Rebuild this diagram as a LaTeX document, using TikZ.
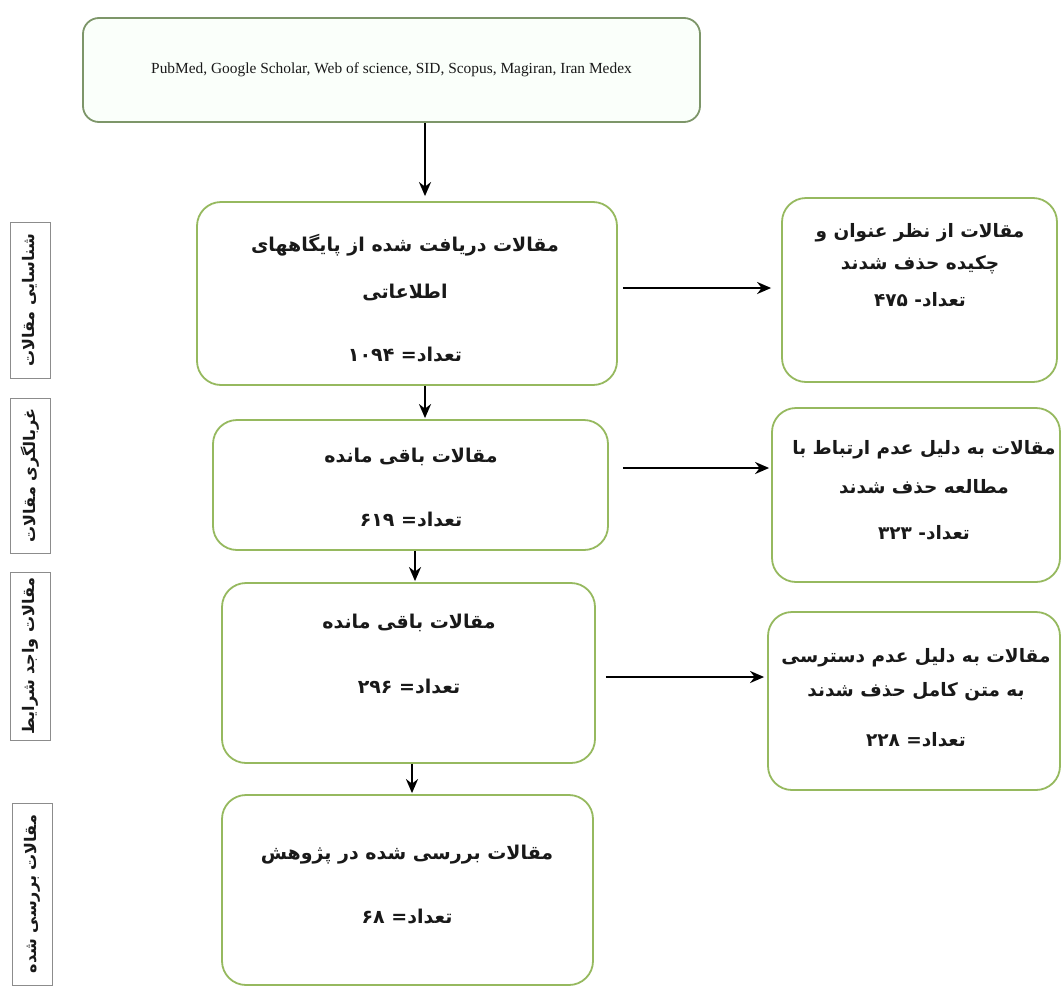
\documentclass[tikz,border=0pt]{standalone}
\usepackage{fontspec}
\setmainfont{Liberation Serif}
\newfontfamily\farsifont[Script=Arabic]{DejaVu Sans}
\TeXXeTstate=1
\usetikzlibrary{arrows.meta}
\newcommand{\fa}[1]{{\farsifont\bfseries\beginR #1\endR}}
\newcommand{\faL}[1]{\beginL #1\endL{}}
\definecolor{boxgreen}{RGB}{150,185,95}
\definecolor{topgreen}{RGB}{125,150,105}
\definecolor{labgray}{RGB}{140,140,140}
\definecolor{txt}{RGB}{25,25,25}
\tikzset{
  x=1pt,y=-1pt,
  flowbox/.style={draw=boxgreen,line width=1.8pt,rounded corners=24pt,inner sep=0pt},
  topbox/.style={draw=topgreen,line width=1.8pt,rounded corners=16pt,align=center,inner sep=0pt,fill=green!2},
  labbox/.style={draw=labgray,line width=1pt,inner sep=0pt},
  mtxt/.style={inner sep=0pt,text=txt,font=\fontsize{19}{22}\selectfont},
  rtxt/.style={inner sep=0pt,text=txt,font=\fontsize{18.5}{22}\selectfont},
  ltxt/.style={inner sep=0pt,text=txt,rotate=90,font=\fontsize{16}{19}\selectfont},
  arr/.style={line width=2.8pt,-{Stealth[length=14pt,width=12pt]}},
}
\begin{document}
\begin{tikzpicture}
\useasboundingbox[fill=white] (0,0) rectangle (1063,988);
% main column
\node[topbox,minimum width=617pt,minimum height=104pt,text=txt] (top) at (391.5,70)
  {\fontsize{15.4}{18}\selectfont PubMed, Google Scholar, Web of science, SID, Scopus, Magiran, Iran Medex};
\node[flowbox,minimum width=420pt,minimum height=183pt] (b1) at (407,293.5) {};
\node[mtxt] at (405,245) {\fa{مقالات دریافت شده از پایگاههای}};
\node[mtxt] at (405,292) {\fa{اطلاعاتی}};
\node[mtxt] at (405,355) {\fa{تعداد= \faL{۱۰۹۴}}};
\node[flowbox,minimum width=395pt,minimum height=130pt] (b2) at (410.5,485) {};
\node[mtxt] at (411,457) {\fa{مقالات باقی مانده}};
\node[mtxt] at (411,520) {\fa{تعداد= \faL{۶۱۹}}};
\node[flowbox,minimum width=373pt,minimum height=180pt] (b3) at (408.5,673) {};
\node[mtxt] at (409,623) {\fa{مقالات باقی مانده}};
\node[mtxt] at (409,687) {\fa{تعداد= \faL{۲۹۶}}};
\node[flowbox,minimum width=371pt,minimum height=190pt] (b4) at (407.5,890) {};
\node[mtxt] at (407,855) {\fa{مقالات بررسی شده در پژوهش}};
\node[mtxt] at (407,917) {\fa{تعداد= \faL{۶۸}}};
% right column
\node[flowbox,minimum width=275pt,minimum height=184pt] (r1) at (919.5,290) {};
\node[rtxt] at (920,233) {\fa{مقالات از نظر عنوان و}};
\node[rtxt] at (920,265) {\fa{چکیده حذف شدند}};
\node[rtxt] at (920,300) {\fa{تعداد- \faL{۴۷۵}}};
\node[flowbox,minimum width=288pt,minimum height=174pt] (r2) at (916,495) {};
\node[rtxt] at (924,450) {\fa{مقالات به دلیل عدم ارتباط با}};
\node[rtxt] at (924,487) {\fa{مطالعه حذف شدند}};
\node[rtxt] at (924,533) {\fa{تعداد- \faL{۳۲۳}}};
\node[flowbox,minimum width=292pt,minimum height=178pt] (r3) at (914,701) {};
\node[rtxt] at (916,658) {\fa{مقالات به دلیل عدم دسترسی}};
\node[rtxt] at (916,692) {\fa{به متن کامل حذف شدند}};
\node[rtxt] at (916,740) {\fa{تعداد= \faL{۲۲۸}}};
% left labels
\node[labbox,minimum width=40pt,minimum height=156pt] (l1) at (30,300) {};
\node[ltxt] at (l1.center) {\fa{شناسایی مقالات}};
\node[labbox,minimum width=40pt,minimum height=155pt] (l2) at (30,475.5) {};
\node[ltxt] at (l2.center) {\fa{غربالگری مقالات}};
\node[labbox,minimum width=40pt,minimum height=168pt] (l3) at (30,656) {};
\node[ltxt] at (l3.center) {\fa{مقالات واجد شرایط}};
\node[labbox,minimum width=40pt,minimum height=182pt] (l4) at (32,894) {};
\node[ltxt] at (l4.center) {\fa{مقالات بررسی شده}};
% connector columns
\coordinate (x1) at (425,0);
\coordinate (x2) at (415,0);
\coordinate (x3) at (412,0);
\draw[arr,shorten >=5pt] (top.south -| x1) -- (b1.north -| x1);
\draw[arr,shorten >=1pt] (b1.south -| x1) -- (b2.north -| x1);
\draw[arr,shorten >=1pt] (b2.south -| x2) -- (b3.north -| x2);
\draw[arr,shorten >=1pt] (b3.south -| x3) -- (b4.north -| x3);
\coordinate (y1) at (0,288);
\coordinate (y2) at (0,468);
\coordinate (y3) at (0,677);
\draw[arr,shorten <=5pt,shorten >=10pt] (b1.east |- y1) -- (r1.west |- y1);
\draw[arr,shorten <=14pt,shorten >=2pt] (b2.east |- y2) -- (r2.west |- y2);
\draw[arr,shorten <=10pt,shorten >=3pt] (b3.east |- y3) -- (r3.west |- y3);
\end{tikzpicture}
\end{document}
